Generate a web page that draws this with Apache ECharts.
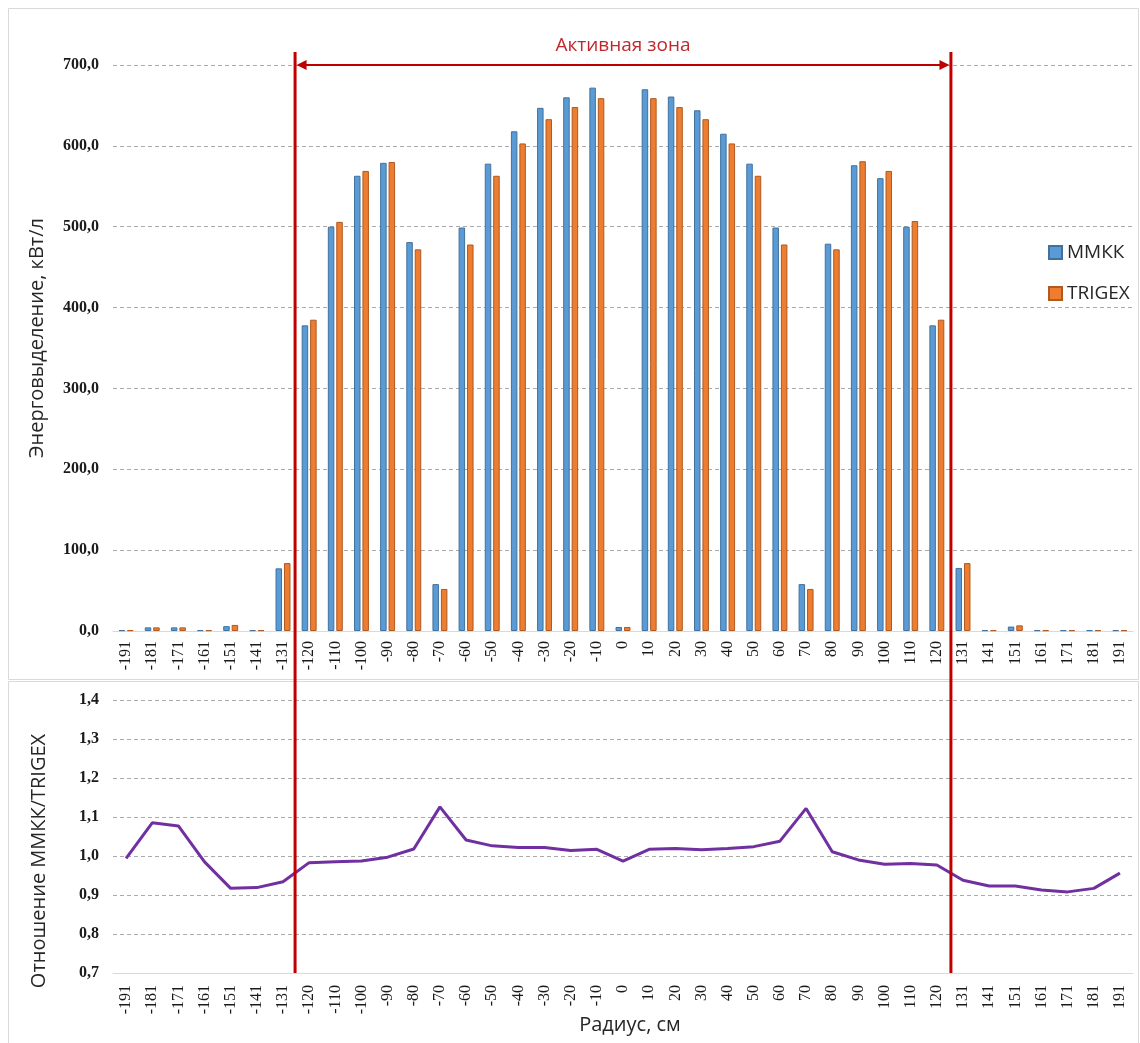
<!DOCTYPE html>
<html>
<head>
<meta charset="utf-8">
<script src="https://cdn.jsdelivr.net/npm/echarts@6/dist/echarts.min.js"></script>
<style>
  html, body { margin: 0; padding: 0; background: #fff; }
  #chart { width: 1140px; height: 1043px; }
</style>
</head>
<body>
<div id="chart"></div>
<script>
// Radius positions, cm
const radius = ['-191','-181','-171','-161','-151','-141','-131',
  '-120','-110','-100','-90','-80','-70','-60','-50','-40','-30','-20','-10',
  '0','10','20','30','40','50','60','70','80','90','100','110','120',
  '131','141','151','161','171','181','191'];

// Power density, kW/l
const mmkk = [1, 4.5, 4.5, 1, 6, 1, 77.5,
  378, 500, 563, 579, 481, 58, 499, 578, 618, 647, 660, 672,
  5, 670, 661, 644, 615, 578, 499, 58, 479, 576, 560, 500, 378,
  78, 1, 5.5, 1, 1, 1, 1];
const trigex = [1, 4.5, 4.5, 1, 7.5, 1, 84,
  385, 506, 569, 580, 472, 52, 478, 563, 603, 633, 648, 659,
  5, 659, 648, 633, 603, 563, 478, 52, 472, 581, 569, 507, 385,
  84, 1, 7, 1, 1, 1, 1];

// ММКК / TRIGEX ratio
const ratio = [0.994, 1.085, 1.077, 0.985, 0.917, 0.919, 0.934,
  0.983, 0.985, 0.987, 0.997, 1.018, 1.126, 1.041, 1.026, 1.022, 1.022, 1.014, 1.017,
  0.987, 1.017, 1.019, 1.016, 1.019, 1.024, 1.038, 1.122, 1.011, 0.990, 0.979, 0.981, 0.977,
  0.938, 0.923, 0.923, 0.913, 0.908, 0.917, 0.956];

// Edges of the active zone (between these category pairs)
const zoneLeft = ['-131', '-120'];
const zoneRight = ['120', '131'];

const RED = '#C00000';
const sans = '"Open Sans", "Noto Sans", sans-serif';
const serif = '"Liberation Serif", "DejaVu Serif", serif';

const chart = echarts.init(document.getElementById('chart'), null, { renderer: 'canvas' });

const fmt = v => v.toFixed(1).replace('.', ',');

const xAxisCommon = {
  type: 'category',
  data: radius,
  axisLine: { lineStyle: { color: '#d9d9d9', width: 1 } },
  axisTick: { show: false },
  axisLabel: { rotate: 90, fontFamily: serif, fontSize: 16, color: '#1a1a1a', interval: 0 }
};
const yAxisCommon = {
  type: 'value',
  axisLine: { show: false },
  axisTick: { show: false },
  splitLine: { lineStyle: { color: '#ababab', type: [4, 3], width: 1 } },
  axisLabel: { fontFamily: serif, fontWeight: 'bold', fontSize: 16, color: '#1a1a1a', margin: 14, formatter: fmt }
};

chart.setOption({
  animation: false,
  backgroundColor: '#fff',
  grid: [
    { left: 113, right: 7, top: 65, bottom: 412 },
    { left: 113, right: 7, top: 700, bottom: 70 }
  ],
  xAxis: [
    Object.assign({ gridIndex: 0 }, xAxisCommon, { axisLabel: Object.assign({}, xAxisCommon.axisLabel, { margin: 10 }) }),
    Object.assign({ gridIndex: 1 }, xAxisCommon, { axisLabel: Object.assign({}, xAxisCommon.axisLabel, { margin: 12 }) })
  ],
  yAxis: [
    Object.assign({ gridIndex: 0, min: 0, max: 700, interval: 100 }, yAxisCommon),
    Object.assign({ gridIndex: 1, min: 0.7, max: 1.4, interval: 0.1 }, yAxisCommon)
  ],
  legend: {
    orient: 'vertical',
    left: 1043,
    top: 238,
    itemWidth: 13,
    itemHeight: 13,
    itemGap: 22,
    icon: 'rect',
    textStyle: { fontFamily: sans, fontSize: 19, color: '#262626' },
    data: ['ММКК', 'TRIGEX']
  },
  series: [
    {
      name: 'ММКК', type: 'bar', xAxisIndex: 0, yAxisIndex: 0,
      data: mmkk, barWidth: 6.5, barGap: '30%',
      itemStyle: { color: '#5B9BD5', borderColor: '#41719C', borderWidth: 1 }
    },
    {
      name: 'TRIGEX', type: 'bar', xAxisIndex: 0, yAxisIndex: 0,
      data: trigex, barWidth: 6.5, barGap: '30%',
      itemStyle: { color: '#ED7D31', borderColor: '#AE5A21', borderWidth: 1 }
    },
    {
      name: 'ratio', type: 'line', xAxisIndex: 1, yAxisIndex: 1,
      data: ratio, symbol: 'none', smooth: false,
      lineStyle: { color: '#7030A0', width: 3 },
      itemStyle: { color: '#7030A0' }
    }
  ]
});

// Active-zone markers placed through the axes' own scales
function boundaryX(pair) {
  const a = chart.convertToPixel({ xAxisIndex: 0 }, pair[0]);
  const b = chart.convertToPixel({ xAxisIndex: 0 }, pair[1]);
  return (a + b) / 2;
}
const xl = boundaryX(zoneLeft) - 1;
const xr = boundaryX(zoneRight) + 1;
const yTop = chart.convertToPixel({ yAxisIndex: 0 }, 700);
const yBottom = chart.convertToPixel({ yAxisIndex: 1 }, 0.7);
const ah = 10, aw = 5;

chart.setOption({
  graphic: [
    { type: 'rect', shape: { x: 8.5, y: 8.5, width: 1130, height: 671 }, style: { fill: 'none', stroke: '#d9d9d9', lineWidth: 1 }, z: -1 },
    { type: 'rect', shape: { x: 8.5, y: 681.5, width: 1130, height: 362 }, style: { fill: 'none', stroke: '#d9d9d9', lineWidth: 1 }, z: -1 },
    { type: 'line', shape: { x1: xl, y1: yTop - 13, x2: xl, y2: yBottom }, style: { stroke: RED, lineWidth: 3 }, z: 10 },
    { type: 'line', shape: { x1: xr, y1: yTop - 13, x2: xr, y2: yBottom }, style: { stroke: RED, lineWidth: 3 }, z: 10 },
    { type: 'line', shape: { x1: xl + ah, y1: yTop, x2: xr - ah, y2: yTop }, style: { stroke: RED, lineWidth: 2 }, z: 10 },
    { type: 'polygon', shape: { points: [[xl + 1.5, yTop], [xl + 1.5 + ah, yTop - aw], [xl + 1.5 + ah, yTop + aw]] }, style: { fill: RED }, z: 10 },
    { type: 'polygon', shape: { points: [[xr - 1.5, yTop], [xr - 1.5 - ah, yTop - aw], [xr - 1.5 - ah, yTop + aw]] }, style: { fill: RED }, z: 10 },
    { type: 'text', x: (xl + xr) / 2, y: 46, style: { text: 'Активная зона', fill: '#C0282D', font: '19px ' + sans, align: 'center', verticalAlign: 'middle' }, z: 10 },
    { type: 'text', x: 37, y: 338, rotation: Math.PI / 2, style: { text: 'Энерговыделение, кВт/л', fill: '#262626', font: '20px ' + sans, align: 'center', verticalAlign: 'middle' } },
    { type: 'text', x: 39, y: 861, rotation: Math.PI / 2, style: { text: 'Отношение ММКК/TRIGEX', fill: '#262626', font: '20px ' + sans, align: 'center', verticalAlign: 'middle' } },
    { type: 'text', x: 630, y: 1025, style: { text: 'Радиус, см', fill: '#262626', font: '20px ' + sans, align: 'center', verticalAlign: 'middle' } }
  ]
});
</script>
</body>
</html>
